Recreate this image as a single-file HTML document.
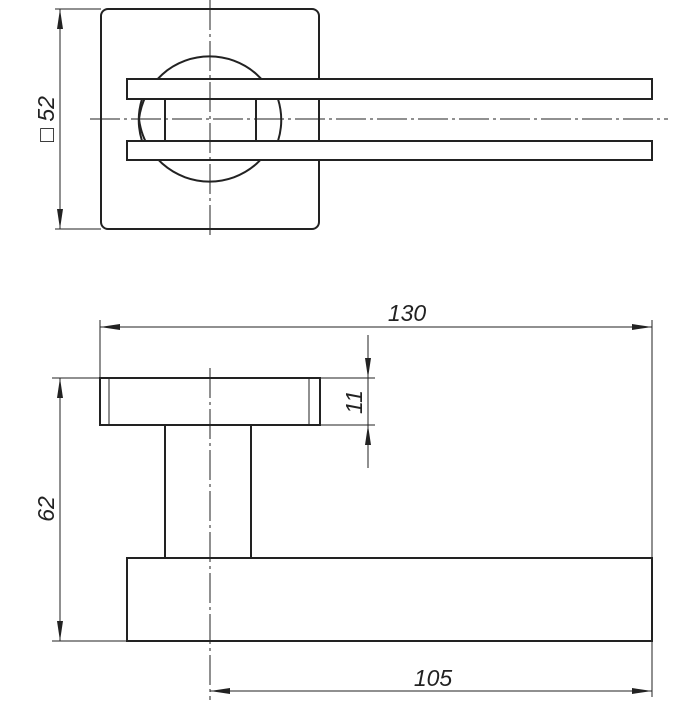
<!DOCTYPE html>
<html><head><style>html,body{margin:0;padding:0;background:#fff}</style></head>
<body>
<svg width="700" height="700" viewBox="0 0 700 700" xmlns="http://www.w3.org/2000/svg">
<defs>
<marker id="a" viewBox="0 0 20 6" refX="20" refY="3" markerWidth="20" markerHeight="6" markerUnits="userSpaceOnUse" orient="auto-start-reverse"><path d="M0,0 L20,3 L0,6 Z" fill="#222"/></marker>
</defs>
<g fill="none" stroke="#222">
<rect x="101" y="9" width="218" height="220" rx="7" stroke-width="2"/>
<path d="M139,119 A71,71 0 0 1 280,119 A71,71 0 0 1 139,119" stroke-width="2" fill="none"/>
<rect x="165" y="99" width="154" height="42" fill="#fff" stroke="none"/>
<path d="M142,99 A71,71 0 0 0 142,141 M278,99 A71,71 0 0 1 278,141" stroke-width="2"/>
<line x1="165" y1="99" x2="165" y2="141" stroke-width="2"/>
<line x1="256" y1="99" x2="256" y2="141" stroke-width="2"/>
<line x1="319" y1="99" x2="319" y2="141" stroke-width="2"/>
<rect x="127" y="79" width="525" height="20" fill="#fff" stroke-width="2"/>
<rect x="127" y="141" width="525" height="19" fill="#fff" stroke-width="2"/>
<line x1="90" y1="119" x2="668" y2="119" stroke-width="1" stroke-dasharray="30,4,3,4"/>
<line x1="210" y1="0" x2="210" y2="238" stroke-width="1" stroke-dasharray="30,4,3,4"/>
<line x1="55" y1="9" x2="101" y2="9" stroke-width="1"/>
<line x1="55" y1="229" x2="101" y2="229" stroke-width="1"/>
<line x1="60" y1="9" x2="60" y2="229" stroke-width="1" marker-start="url(#a)" marker-end="url(#a)"/>
<rect x="100" y="378" width="220" height="47" stroke-width="2"/>
<line x1="109" y1="378" x2="109" y2="425" stroke-width="1"/>
<line x1="309" y1="378" x2="309" y2="425" stroke-width="1"/>
<line x1="165" y1="425" x2="165" y2="558" stroke-width="2"/>
<line x1="251" y1="425" x2="251" y2="558" stroke-width="2"/>
<rect x="127" y="558" width="525" height="83" stroke-width="2"/>
<line x1="210" y1="368" x2="210" y2="700" stroke-width="1" stroke-dasharray="30,4,3,4"/>
<line x1="100" y1="320" x2="100" y2="378" stroke-width="1"/>
<line x1="652" y1="320" x2="652" y2="697" stroke-width="1"/>
<line x1="100" y1="327" x2="652" y2="327" stroke-width="1" marker-start="url(#a)" marker-end="url(#a)"/>
<line x1="320" y1="378" x2="375" y2="378" stroke-width="1"/>
<line x1="320" y1="425" x2="375" y2="425" stroke-width="1"/>
<line x1="368" y1="335" x2="368" y2="378" stroke-width="1" marker-end="url(#a)"/>
<line x1="368" y1="468" x2="368" y2="425" stroke-width="1" marker-end="url(#a)"/>
<line x1="368" y1="378" x2="368" y2="425" stroke-width="1"/>
<line x1="52" y1="378" x2="100" y2="378" stroke-width="1"/>
<line x1="52" y1="641" x2="127" y2="641" stroke-width="1"/>
<line x1="60" y1="378" x2="60" y2="641" stroke-width="1" marker-start="url(#a)" marker-end="url(#a)"/>
<line x1="210" y1="691" x2="652" y2="691" stroke-width="1" marker-start="url(#a)" marker-end="url(#a)"/>
</g>
<g font-family="Liberation Sans Narrow, Liberation Sans, sans-serif" font-size="23" font-style="italic" fill="#222">
<text x="407" y="321" text-anchor="middle">130</text>
<text x="433" y="686" text-anchor="middle">105</text>
<text transform="translate(54,509) rotate(-90)" text-anchor="middle">62</text>
<text transform="translate(362,402) rotate(-90)" text-anchor="middle">11</text>
<text transform="translate(54,119) rotate(-90)" text-anchor="middle">□ 52</text>
</g>
</svg>
</body></html>
